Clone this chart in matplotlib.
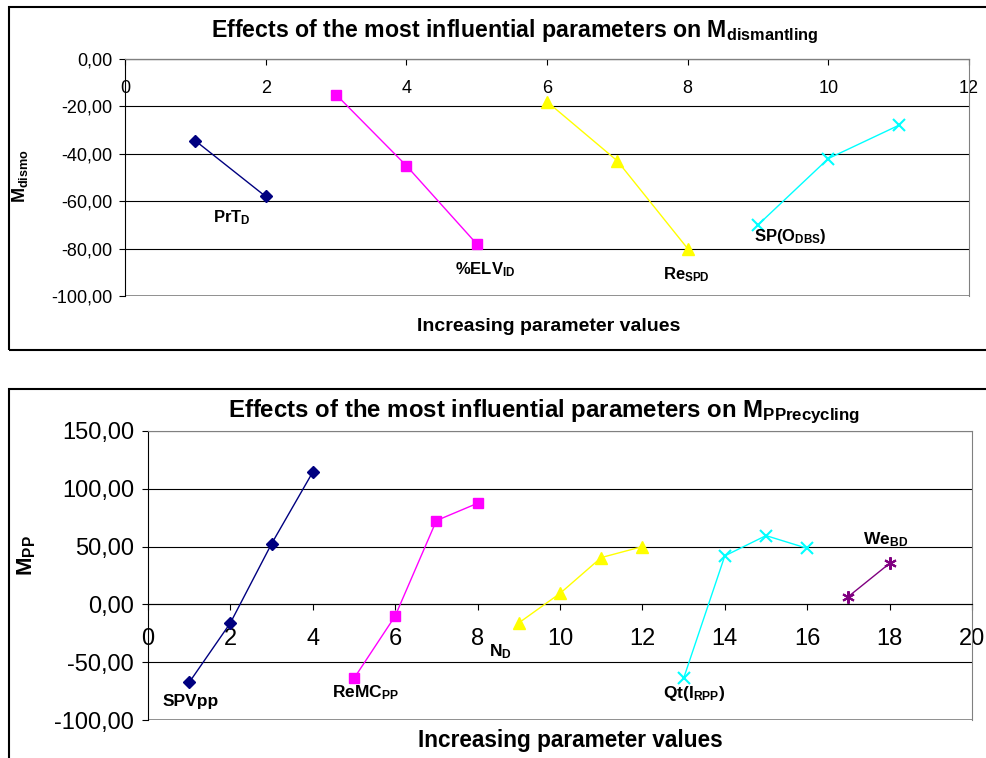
import matplotlib
matplotlib.use("Agg")
import matplotlib.pyplot as plt
from matplotlib.patches import Rectangle
from matplotlib.ticker import FuncFormatter

plt.rcParams["font.family"] = ["Liberation Sans", "DejaVu Sans"]
plt.rcParams["mathtext.fontset"] = "custom"
plt.rcParams["mathtext.default"] = "regular"

# --- top chart: M_dismantling ---
dis_series = ["PrT$_D$", "%ELV$_{ID}$", "Re$_{SPD}$", "SP(O$_{DBS}$)"]
dis_x = [[1, 2], [3, 4, 5], [6, 7, 8], [9, 10, 11]]
dis_y = [
    [-34.5, -58.0],
    [-15.0, -45.0, -78.0],
    [-18.0, -43.0, -80.0],
    [-70.0, -42.0, -28.0],
]

# --- bottom chart: M_PPrecycling ---
pp_series = ["SPVpp", "ReMC$_{PP}$", "N$_D$", "Qt(I$_{RPP}$)", "We$_{BD}$"]
pp_x = [[1, 2, 3, 4], [5, 6, 7, 8], [9, 10, 11, 12], [13, 14, 15, 16], [17, 18]]
pp_y = [
    [-67.5, -16.0, 52.5, 114.5],
    [-64.0, -10.0, 72.5, 87.5],
    [-16.0, 9.5, 40.5, 50.0],
    [-64.0, 42.0, 59.5, 48.5],
    [6.8, 35.5],
]

colors = ["#000080", "#FF00FF", "#FFFF00", "#00FFFF", "#800080"]
markers = ["D", "s", "^", "x", (6, 2, 0)]
msizes = [6, 7, 8, 8, 9]

comma = FuncFormatter(lambda v, _: f"{v:.2f}".replace(".", ","))


def style_axes(ax, xlim, ylim, ystep, xstep, tick_fs, pad_x, pad_y):
    ax.set_xlim(*xlim)
    ax.set_ylim(*ylim)
    ax.set_yticks(range(ylim[0], ylim[1] + 1, ystep))
    ax.set_xticks(range(xlim[0], xlim[1] + 1, xstep))
    ax.yaxis.set_major_formatter(comma)
    ax.spines["bottom"].set_position(("data", 0))
    ax.spines["bottom"].set_color("black")
    ax.spines["left"].set_color("black")
    for s in ("top", "right"):
        ax.spines[s].set_color("#808080")
    ax.grid(axis="y", color="black", linewidth=0.8)
    ax.set_axisbelow(True)
    ax.tick_params(axis="x", direction="out", length=4, pad=pad_x, labelsize=tick_fs)
    ax.tick_params(axis="y", direction="out", length=4, pad=pad_y, labelsize=tick_fs)


fig = plt.figure(figsize=(9.87, 7.58), dpi=100)

# outer chart frames
fig.patches.append(Rectangle((9 / 987, 1 - 350 / 758), 1.2, 343 / 758,
                             transform=fig.transFigure, fill=False, lw=1.5, ec="black"))
fig.patches.append(Rectangle((9 / 987, -0.1), 1.2, 0.1 + (758 - 389) / 758,
                             transform=fig.transFigure, fill=False, lw=1.5, ec="black"))

# top chart
ax1 = fig.add_axes([125 / 987, 1 - 296 / 758, 844 / 987, 237 / 758])
style_axes(ax1, (0, 12), (-100, 0), 20, 2, 13, 11, 5)
ax1.axhline(-100, color="#808080", lw=1.2)
for i, (xs, ys) in enumerate(zip(dis_x, dis_y)):
    ax1.plot(xs, ys, color=colors[i], marker=markers[i], ms=msizes[i], lw=1.0,
             mew=1.5 if markers[i] == "x" else 1.0, clip_on=False, zorder=3)
dis_label_pos = [(1.52, -67), (5.12, -89), (7.98, -91), (9.46, -75)]
for name, (lx, ly) in zip(dis_series, dis_label_pos):
    ax1.text(lx, ly, name, ha="center", va="center", fontsize=12, fontweight="bold")
fig.text(515 / 987, 1 - 32 / 758, "Effects of the most influential parameters on M$_{dismantling}$",
         ha="center", va="center", fontsize=16.7, fontweight="bold")
fig.text(549 / 987, 1 - 327 / 758, "Increasing parameter values",
         ha="center", va="center", fontsize=14, fontweight="bold")
fig.text(20 / 987, 1 - 176 / 758, "M$_{dismo}$", rotation=90,
         ha="center", va="center", fontsize=13, fontweight="bold")

# bottom chart
ax2 = fig.add_axes([148 / 987, 1 - 720 / 758, 824 / 987, 289 / 758])
style_axes(ax2, (0, 20), (-100, 150), 50, 2, 17, 13, 6)
ax2.axhline(-100, color="#808080", lw=1.2)
for i, (xs, ys) in enumerate(zip(pp_x, pp_y)):
    ax2.plot(xs, ys, color=colors[i], marker=markers[i], ms=msizes[i], lw=1.0,
             mew=1.5 if i >= 3 else 1.0, clip_on=False, zorder=3)
pp_label_pos = [(1.04, -84), (5.27, -76), (8.55, -41), (13.25, -77), (17.9, 56)]
for name, (lx, ly) in zip(pp_series, pp_label_pos):
    ax2.text(lx, ly, name, ha="center", va="center", fontsize=12.5, fontweight="bold")
fig.text(544 / 987, 1 - 412 / 758, "Effects of the most influential parameters on M$_{PPrecycling}$",
         ha="center", va="center", fontsize=17.3, fontweight="bold")
fig.text(570 / 987, 1 - 740 / 758, "Increasing parameter values",
         ha="center", va="center", fontsize=16.3, fontweight="bold")
fig.text(27 / 987, 1 - 556 / 758, "M$_{PP}$", rotation=90,
         ha="center", va="center", fontsize=16, fontweight="bold")

fig.savefig("out.png", dpi=100)
